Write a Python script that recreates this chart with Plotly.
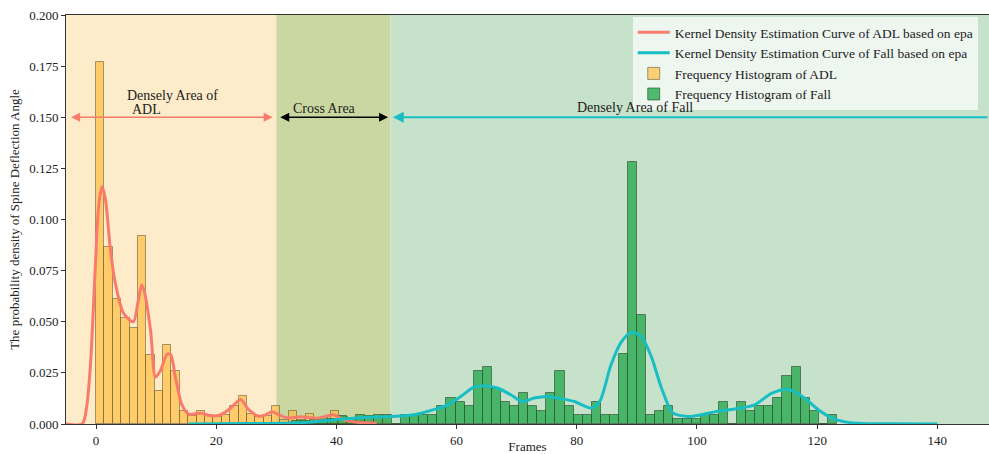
import plotly.graph_objects as go

# ---------------- data ----------------
adl_bin_start = 0.0
adl_bin_width = 1.395
adl_hist = [0.177, 0.0865, 0.061, 0.052, 0.047, 0.0917, 0.0335, 0.0163, 0.0384, 0.026,
            0.0065, 0.004, 0.0063, 0.0045, 0.0034, 0.0045, 0.0088, 0.0138, 0.0049, 0.0032,
            0.0037, 0.0088, 0.002, 0.0063, 0.002, 0.005, 0.003, 0.002, 0.0065, 0.0035,
            0.0015, 0.0015, 0.001]

fall_bin_start = 32.63
fall_bin_width = 1.511
fall_hist = [0.0015, 0.0015, 0.002, 0.003, 0.0025, 0.004, 0.003, 0.0044, 0.004, 0.0044,
             0.0044, 0.0, 0.0042, 0.0042, 0.0045, 0.0045, 0.0086, 0.0127, 0.0107, 0.0086,
             0.0257, 0.0277, 0.0171, 0.0107, 0.0086, 0.0151, 0.0086, 0.0065, 0.0151, 0.0257,
             0.0086, 0.0042, 0.0042, 0.0107, 0.0045, 0.0045, 0.0342, 0.128, 0.0534, 0.0045,
             0.0065, 0.0086, 0.0024, 0.0024, 0.0024, 0.0045, 0.0045, 0.0106, 0.0, 0.0106,
             0.0065, 0.0086, 0.0086, 0.0127, 0.0236, 0.0277, 0.0127, 0.0065, 0.0, 0.0045]

adl_kde_x = [-5, -2.3, -1.6, -0.95, -0.12, 0.45, 1.0, 1.55, 2.4, 3.2, 4.6, 6.2, 7.0, 7.6, 8.1,
             9.1, 9.9, 10.7, 11.8, 12.4, 13.2, 14.3, 15.4, 17.4, 19.1, 20.7, 22.4, 24.05, 25.4,
             27.1, 28.2, 29.3, 30.4, 31.8, 34.0, 36.7, 38.0, 39.5, 41.2, 43.4, 46.7]
adl_kde_y = [0.0, 0.0, 0.0077, 0.028, 0.077, 0.107, 0.116, 0.110, 0.085, 0.069, 0.054, 0.050,
             0.060, 0.068, 0.064, 0.045, 0.023, 0.026, 0.034, 0.034, 0.023, 0.0093, 0.0048,
             0.0053, 0.004, 0.0045, 0.0077, 0.012, 0.007, 0.0038, 0.0045, 0.006, 0.0045, 0.003,
             0.0035, 0.0028, 0.0035, 0.0045, 0.0021, 0.0008, 0.0005]

fall_kde_x = [15.4, 25, 34.0, 39.5, 45.1, 48.4, 52.9, 56.2, 58.5, 60.7, 62.9, 64.6, 66.8, 69.0,
              71.0, 72.9, 75.1, 77.4, 79.6, 82.4, 83.8, 85.7, 87.4, 89.05, 90.7, 92.4, 94.05,
              96.0, 98.5, 100.7, 103.5, 106.3, 109.6, 112.4, 115.2, 117.9, 120.2, 122.4, 125.1,
              127.4, 132, 140]
fall_kde_y = [0.0, 0.0002, 0.0006, 0.002, 0.0033, 0.0035, 0.0045, 0.007, 0.0094, 0.0135, 0.018,
              0.0187, 0.0176, 0.0143, 0.011, 0.0127, 0.0135, 0.0124, 0.011, 0.0078, 0.011, 0.029,
              0.040, 0.0448, 0.0428, 0.033, 0.018, 0.0054, 0.0037, 0.0045, 0.0062, 0.0073, 0.0094,
              0.015, 0.017, 0.0127, 0.007, 0.003, 0.0008, 0.0003, 0.0001, 0.0]

region_bounds = [-5, 30, 49, 148.6]
x_ticks = [0, 20, 40, 60, 80, 100, 120, 140]
y_ticks = [0.0, 0.025, 0.05, 0.075, 0.1, 0.125, 0.15, 0.175, 0.2]

# ---------------- figure ----------------
FONT = "Liberation Serif, Times New Roman, serif"
ADL_LINE = "#F97B6B"
FALL_LINE = "#17BEC3"
TXT = dict(family=FONT, size=14, color="#222")

adl_centers = [adl_bin_start + adl_bin_width * (i + 0.5) for i in range(len(adl_hist))]
fall_centers = [fall_bin_start + fall_bin_width * (i + 0.5) for i in range(len(fall_hist))]

fig = go.Figure()

fig.add_trace(go.Bar(
    x=adl_centers, y=adl_hist, width=adl_bin_width,
    name="Frequency Histogram of ADL", legendrank=3,
    marker=dict(color="rgba(255,191,64,0.7)",
                line=dict(color="rgba(90,80,50,0.55)", width=1)),
))
fig.add_trace(go.Bar(
    x=fall_centers, y=fall_hist, width=fall_bin_width,
    name="Frequency Histogram of Fall", legendrank=4,
    marker=dict(color="rgba(40,170,80,0.8)",
                line=dict(color="rgba(40,70,40,0.6)", width=1)),
))
fig.add_trace(go.Scatter(
    x=adl_kde_x, y=adl_kde_y, mode="lines",
    name="Kernel Density Estimation Curve of ADL based on epa", legendrank=1,
    line=dict(color=ADL_LINE, width=3, shape="spline", smoothing=0.8),
))
fig.add_trace(go.Scatter(
    x=fall_kde_x, y=fall_kde_y, mode="lines",
    name="Kernel Density Estimation Curve of Fall based on epa", legendrank=2,
    line=dict(color=FALL_LINE, width=3, shape="spline", smoothing=0.8),
))

region_colors = ["#FDEBC9", "#CAD7A0", "#C6E2CB"]
for i, c in enumerate(region_colors):
    fig.add_shape(type="rect", xref="x", yref="paper",
                  x0=region_bounds[i], x1=region_bounds[i + 1], y0=0, y1=1,
                  fillcolor=c, line=dict(width=0), layer="below")

arrow_y = 0.15
fig.add_annotation(x=region_bounds[1] - 0.6, y=arrow_y, ax=region_bounds[0] + 0.6, ay=arrow_y,
                   xref="x", yref="y", axref="x", ayref="y", text="",
                   showarrow=True, arrowhead=2, startarrowhead=2, arrowside="end+start",
                   arrowsize=1.2, startarrowsize=1.2, arrowwidth=1.5, arrowcolor=ADL_LINE)
fig.add_annotation(x=region_bounds[2] - 0.4, y=arrow_y, ax=region_bounds[1] + 0.4, ay=arrow_y,
                   xref="x", yref="y", axref="x", ayref="y", text="",
                   showarrow=True, arrowhead=2, startarrowhead=2, arrowside="end+start",
                   arrowsize=1.2, startarrowsize=1.2, arrowwidth=1.5, arrowcolor="black")
fig.add_annotation(x=region_bounds[2] + 0.4, y=arrow_y, ax=region_bounds[3], ay=arrow_y,
                   xref="x", yref="y", axref="x", ayref="y", text="",
                   showarrow=True, arrowhead=2, arrowsize=1.2, arrowwidth=1.8,
                   arrowcolor=FALL_LINE)

fig.add_annotation(x=4.9, y=0.1604, xref="x", yref="y", xanchor="left", yanchor="middle",
                   text="Densely Area of", showarrow=False, font=TXT)
fig.add_annotation(x=5.6, y=0.1540, xref="x", yref="y", xanchor="left", yanchor="middle",
                   text="ADL", showarrow=False, font=TXT)
fig.add_annotation(x=38.1, y=0.1545, xref="x", yref="y", yanchor="middle",
                   text="Cross Area", showarrow=False, font=TXT)
fig.add_annotation(x=89.7, y=0.1548, xref="x", yref="y", yanchor="middle",
                   text="Densely Area of Fall", showarrow=False, font=TXT)

fig.update_layout(
    width=989, height=454,
    margin=dict(l=66, r=0, t=15, b=30),
    paper_bgcolor="white", plot_bgcolor="white",
    barmode="overlay", bargap=0,
    font=dict(family=FONT, size=13, color="#222"),
    showlegend=True,
    legend=dict(x=0.614, y=0.995, xanchor="left", yanchor="top",
                bgcolor="rgba(255,255,255,0.7)", borderwidth=0,
                font=dict(family=FONT, size=13.5, color="#222"),
                tracegroupgap=0, itemwidth=32),
)
fig.update_xaxes(range=[region_bounds[0], region_bounds[3]], tickvals=x_ticks,
                 ticks="outside", ticklen=4, tickcolor="#333", automargin=False,
                 showline=True, linecolor="#333", linewidth=1, mirror=True,
                 showgrid=False, zeroline=False,
                 title=dict(text="Frames", standoff=2, font=dict(family=FONT, size=13)))
fig.update_yaxes(range=[0, 0.2], tickvals=y_ticks, tickformat=".3f",
                 ticks="outside", ticklen=4, tickcolor="#333", automargin=False,
                 showline=True, linecolor="#333", linewidth=1,
                 showgrid=False, zeroline=False,
                 title=dict(text="The probability density of Spine Deflection Angle",
                            standoff=6, font=dict(family=FONT, size=13)))

fig.write_html("out.html", config={"displayModeBar": False},
               post_script="document.body.style.margin='0';document.body.style.overflow='hidden';")
